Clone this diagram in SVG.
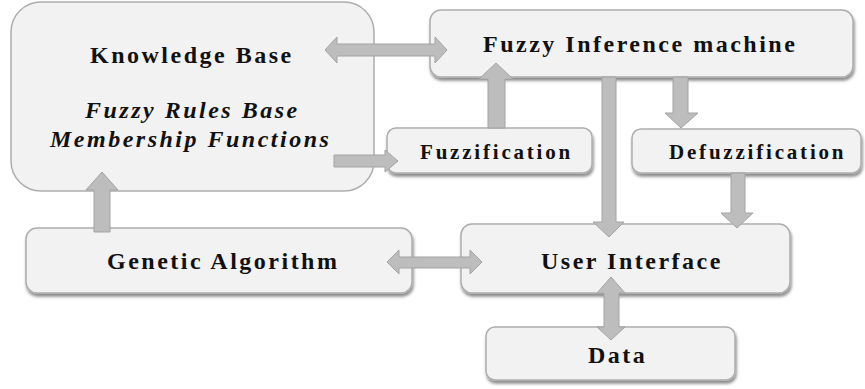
<svg xmlns="http://www.w3.org/2000/svg" width="865" height="389" viewBox="0 0 865 389">
  <defs>
    <filter id="shadow" x="-10%" y="-20%" width="120%" height="150%">
      <feDropShadow dx="1" dy="3" stdDeviation="1.6" flood-color="#000" flood-opacity="0.45"/>
    </filter>
    <style>
      .box { fill: #f2f2f2; stroke: #adadad; stroke-width: 1.5; }
      .sh { filter: url(#shadow); }
      .lbl { font-family: "Liberation Serif", "Times New Roman", serif; font-weight: bold; font-size: 24px; letter-spacing: 2.5px; fill: #111; }
      .sm { font-size: 21px; letter-spacing: 2.8px; }
      .it { font-style: italic; }
      .arrow { fill: #bdbdbd; stroke: #a3a3a3; stroke-width: 1; stroke-linejoin: miter; }
    </style>
  </defs>

  <g id="knowledge-base">
    <rect class="box" x="11" y="2" width="363" height="189" rx="30"/>
    <text class="lbl" x="90" y="63">Knowledge Base</text>
    <text class="lbl it" x="85" y="118">Fuzzy Rules Base</text>
    <text class="lbl it" x="50" y="147">Membership Functions</text>
  </g>

  <g id="fuzzy-inference">
    <rect class="box sh" x="430" y="10" width="423" height="67" rx="11"/>
    <text class="lbl" x="483" y="52">Fuzzy Inference machine</text>
  </g>

  <g id="fuzzification">
    <rect class="box sh" x="387" y="128" width="205" height="45" rx="9"/>
    <text class="lbl sm" x="420" y="159">Fuzzification</text>
  </g>

  <g id="defuzzification">
    <rect class="box sh" x="632" y="129" width="229" height="44" rx="9"/>
    <text class="lbl sm" x="669" y="159">Defuzzification</text>
  </g>

  <g id="genetic-algorithm">
    <rect class="box sh" x="26" y="228" width="386" height="65" rx="11"/>
    <text class="lbl" x="107" y="269">Genetic Algorithm</text>
  </g>

  <g id="user-interface">
    <rect class="box sh" x="461" y="224" width="329" height="69" rx="11"/>
    <text class="lbl" x="541" y="269">User Interface</text>
  </g>

  <g id="data">
    <rect class="box sh" x="486" y="327" width="249" height="53" rx="9"/>
    <text class="lbl" x="588" y="363">Data</text>
  </g>

  <g id="connectors">
    <!-- Knowledge Base <-> Fuzzy Inference machine -->
    <polygon class="arrow" points="325,50 337,37 337,44 435,44 435,37 447,50 435,63 435,56 337,56 337,63"/>
    <!-- Fuzzification -> Fuzzy Inference machine -->
    <polygon class="arrow" points="496,63 513,79 505,79 505,128 488,128 488,79 479,79"/>
    <!-- Knowledge Base -> Fuzzification -->
    <polygon class="arrow" points="334,155 385,155 385,150 398,161 385,172 385,167 334,167"/>
    <!-- Fuzzy Inference machine -> User Interface -->
    <polygon class="arrow" points="602,77 616,77 616,222 624,222 609,237 593,222 602,222"/>
    <!-- Fuzzy Inference machine -> Defuzzification -->
    <polygon class="arrow" points="673,77 688,77 688,113 698,113 681,128 665,113 673,113"/>
    <!-- Defuzzification -> User Interface -->
    <polygon class="arrow" points="731,173 745,173 745,213 753,213 737,228 721,213 731,213"/>
    <!-- Genetic Algorithm <-> User Interface -->
    <polygon class="arrow" points="387,262 399,250 399,257 470,257 470,250 482,262 470,274 470,268 399,268 399,274"/>
    <!-- Genetic Algorithm -> Knowledge Base -->
    <polygon class="arrow" points="102,172 118,190 110,190 110,232 94,232 94,190 86,190"/>
    <!-- User Interface <-> Data -->
    <polygon class="arrow" points="611,277 625,293 619,293 619,327 625,327 611,340 597,327 604,327 604,293 597,293"/>
  </g>
</svg>
